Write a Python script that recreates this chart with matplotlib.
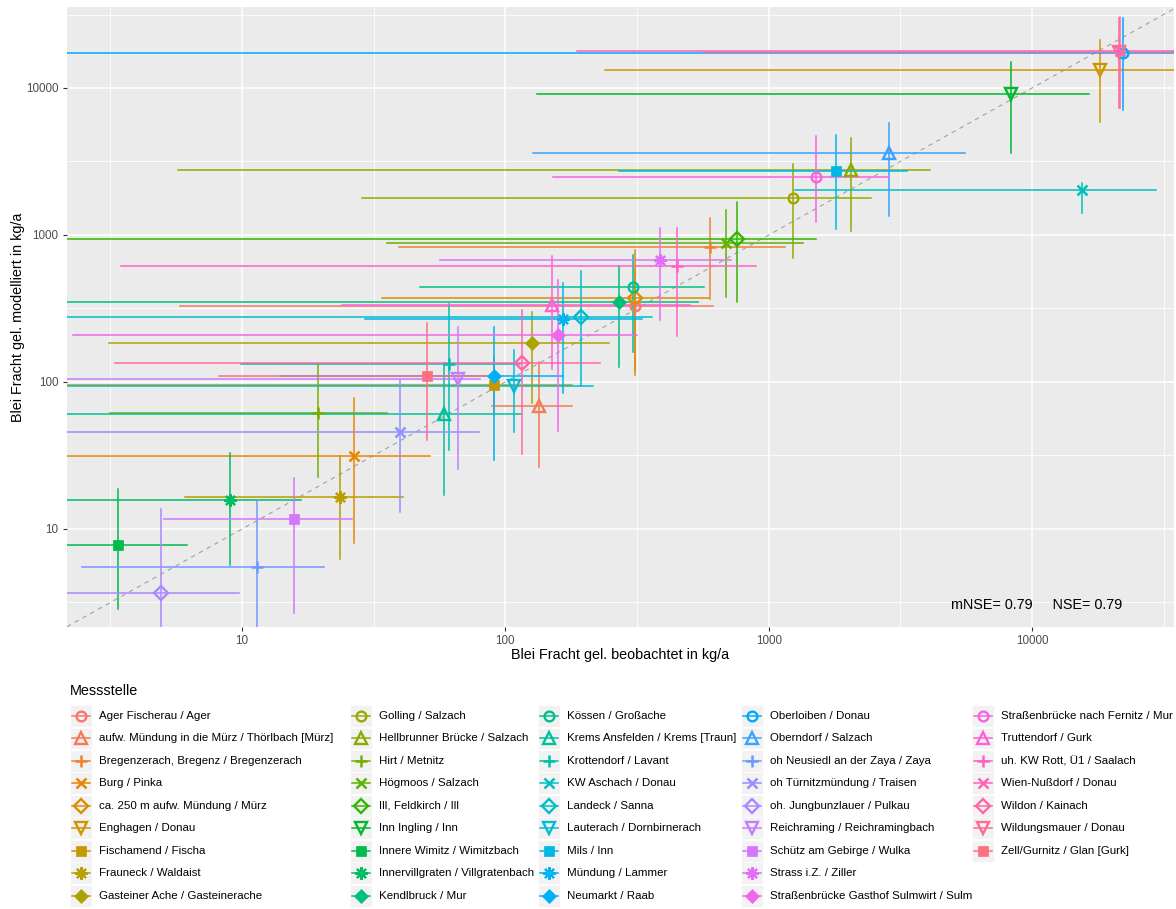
import numpy as np
import matplotlib
matplotlib.use("Agg")
import matplotlib.pyplot as plt
from matplotlib.patches import Rectangle

plt.rcParams['font.family'] = ['Liberation Sans', 'DejaVu Sans']

# --- data (kg/a) ---
stations = [
    "Ager Fischerau / Ager",
    "aufw. Mündung in die Mürz / Thörlbach [Mürz]",
    "Bregenzerach, Bregenz / Bregenzerach",
    "Burg / Pinka",
    "ca. 250 m aufw. Mündung / Mürz",
    "Enghagen / Donau",
    "Fischamend / Fischa",
    "Frauneck / Waldaist",
    "Gasteiner Ache / Gasteinerache",
    "Golling / Salzach",
    "Hellbrunner Brücke / Salzach",
    "Hirt / Metnitz",
    "Högmoos / Salzach",
    "Ill, Feldkirch / Ill",
    "Inn Ingling / Inn",
    "Innere Wimitz / Wimitzbach",
    "Innervillgraten / Villgratenbach",
    "Kendlbruck / Mur",
    "Kössen / Großache",
    "Krems Ansfelden / Krems [Traun]",
    "Krottendorf / Lavant",
    "KW Aschach / Donau",
    "Landeck / Sanna",
    "Lauterach / Dornbirnerach",
    "Mils / Inn",
    "Mündung / Lammer",
    "Neumarkt / Raab",
    "Oberloiben / Donau",
    "Oberndorf / Salzach",
    "oh Neusiedl an der Zaya / Zaya",
    "oh Türnitzmündung / Traisen",
    "oh. Jungbunzlauer / Pulkau",
    "Reichraming / Reichramingbach",
    "Schütz am Gebirge / Wulka",
    "Strass i.Z. / Ziller",
    "Straßenbrücke Gasthof Sulmwirt / Sulm",
    "Straßenbrücke nach Fernitz / Mur",
    "Truttendorf / Gurk",
    "uh. KW Rott, Ü1 / Saalach",
    "Wien-Nußdorf / Donau",
    "Wildon / Kainach",
    "Wildungsmauer / Donau",
    "Zell/Gurnitz / Glan [Gurk]",
]

obs = [311, 134, 596, 26.5, 311, 18070, 90.5, 23.6, 126, 1231, 2050, 19.4, 690, 757, 8340,
       3.37, 9.0, 270, 306, 58.6, 61.2, 15500, 194, 108, 1808, 165, 90.6, 22130, 2870, 11.4,
       39.8, 4.92, 65.9, 15.7, 387, 159, 1510, 150, 448, 21630, 116, 21400, 50.2]
obs_lo = [5.8, 89, 39.3, 1, 34, 238, 1, 6.08, 3.13, 28.6, 5.7, 3.16, 35.5, 1, 132,
          1, 1, 1, 47.4, 1, 9.9, 1259, 1, 1, 270, 29.3, 13.9, 1, 127, 2.47,
          1, 1, 1, 5.07, 56.5, 2.27, 152, 23.9, 3.47, 187, 3.3, 564, 8.2]
obs_hi = [614, 179, 1148, 51.8, 594, 1e5, 179, 40.7, 248, 2443, 4100, 35.6, 1349, 1511, 16500,
          6.17, 16.7, 541, 569, 115, 114, 29600, 359, 216, 3360, 330, 166, 1e5, 5570, 20.4,
          79.4, 9.75, 80, 26.2, 718, 315, 2852, 502, 891, 1e5, 229, 1e5, 89.8]

mod = [330, 69, 828, 31.4, 371, 13250, 95, 16.5, 183, 1787, 2768, 61.2, 887, 940, 9060,
       7.78, 15.7, 352, 443, 60.5, 132, 2024, 275, 94, 2725, 270, 109, 17390, 3597, 5.48,
       45.9, 3.69, 105, 11.7, 673, 210, 2496, 334, 618, 17860, 134, 17600, 110]
mod_lo = [121, 26.3, 367, 8.0, 112, 5900, 62, 6.25, 72.3, 702, 1070, 22.7, 380, 352, 3630,
          2.86, 5.69, 127, 161, 17.0, 34.4, 1420, 94, 45.9, 1094, 84.5, 29.4, 7080, 1346, 1,
          13.1, 1, 25.5, 2.67, 264, 46.4, 1231, 122, 206, 7280, 32.4, 7300, 40.3]
mod_hi = [578, 136, 1312, 77.4, 790, 21200, 150, 31.5, 301, 3026, 4550, 132, 1479, 1686, 15100,
          18.7, 32.7, 615, 731, 134, 340, 2260, 569, 165, 4786, 469, 236, 29800, 5750, 15.4,
          103, 13.7, 238, 22.1, 1122, 494, 4710, 720, 1122, 30550, 309, 30000, 251]

ann_text = "mNSE= 0.79     NSE= 0.79"


def hcl(h, c=100.0, l=65.0):
    h = np.deg2rad(h)
    U, V = c * np.cos(h), c * np.sin(h)
    Y = 100 * ((l + 16) / 116) ** 3
    u = U / (13 * l) + 0.1978398
    v = V / (13 * l) + 0.4683363
    X = 9 * Y * u / (4 * v)
    Z = -X / 3 - 5 * Y + 3 * Y / v
    M = np.array([[3.240479, -1.537150, -0.498535],
                  [-0.969256, 1.875992, 0.041556],
                  [0.055648, -0.204043, 1.057311]])
    rgb = M @ np.array([X, Y, Z]) / 100
    rgb = np.where(rgb > 0.0031308, 1.055 * np.abs(rgb) ** (1 / 2.4) - 0.055, 12.92 * rgb)
    return tuple(np.clip(rgb, 0, 1))


n = len(stations)
colors = [hcl(h) for h in np.linspace(15, 375, n + 1)[:-1]]

# ggplot shapes 1,2,3,4,5,6,15,8,18
shape_styles = [
    dict(marker='o', ms=7.0, open=True, mew=1.7),
    dict(marker='^', ms=8.0, open=True, mew=1.7),
    dict(marker='+', ms=9.0, open=False, mew=1.8),
    dict(marker='x', ms=7.0, open=False, mew=1.8),
    dict(marker='D', ms=7.0, open=True, mew=1.7),
    dict(marker='v', ms=8.0, open=True, mew=1.7),
    dict(marker='s', ms=7.0, open=False, mew=0.5),
    dict(marker=(8, 2, 0), ms=9.0, open=False, mew=1.6),
    dict(marker='D', ms=7.2, open=False, mew=0.5),
]


def marker_kw(i):
    s = shape_styles[i % 9]
    c = colors[i]
    return dict(marker=s['marker'], ms=s['ms'], mew=s['mew'], mec=c,
                mfc='none' if s['open'] else c, linestyle='none')


W, H = 1176, 909
fig = plt.figure(figsize=(W / 100, H / 100), dpi=100)
ax = fig.add_axes([66.7 / W, 1 - 626.7 / H, (1174 - 66.7) / W, (626.7 - 7.3) / H])
ax.set_facecolor('#EBEBEB')
ax.set_xscale('log')
ax.set_yscale('log')
ax.set_xlim(10 ** 0.334, 10 ** 4.539)
ax.set_ylim(10 ** 0.335, 10 ** 4.549)

majors = [10, 100, 1000, 10000]
minors = [10 ** (k + 0.5) for k in range(0, 5)]
ax.set_xticks(majors)
ax.set_xticklabels([str(m) for m in majors])
ax.set_yticks(majors)
ax.set_yticklabels([str(m) for m in majors])
ax.xaxis.set_minor_locator(matplotlib.ticker.NullLocator())
ax.yaxis.set_minor_locator(matplotlib.ticker.NullLocator())
for m in minors:
    ax.axvline(m, color='white', lw=0.6, zorder=0.5)
    ax.axhline(m, color='white', lw=0.6, zorder=0.5)
for m in majors:
    ax.axvline(m, color='white', lw=1.15, zorder=0.6)
    ax.axhline(m, color='white', lw=1.15, zorder=0.6)
for sp in ax.spines.values():
    sp.set_visible(False)
ax.tick_params(axis='both', which='major', length=3, width=0.8, color='#333333',
               labelsize=8.4, labelcolor='#4D4D4D', pad=3)

ax.axline((1, 1), (10000, 10000), color='#A0A0A0', lw=0.8, dashes=(4, 4), zorder=1)

for i in range(n):
    ax.plot([obs_lo[i], obs_hi[i]], [mod[i], mod[i]], color=colors[i], lw=1.1, zorder=2)
    ax.plot([obs[i], obs[i]], [mod_lo[i], mod_hi[i]], color=colors[i], lw=1.1, zorder=2)
for i in range(n):
    ax.plot(obs[i], mod[i], zorder=3, **marker_kw(i))

ax.text(10 ** 4.019, 10 ** 0.483, ann_text, ha='center', va='center', fontsize=10.4, color='black')

fig.text(620 / W, 1 - 655 / H, "Blei Fracht gel. beobachtet in kg/a", ha='center', va='center',
         fontsize=10.4)
fig.text(18 / W, 1 - 317 / H, "Blei Fracht gel. modelliert in kg/a", ha='center', va='center',
         rotation=90, fontsize=10.4)

# legend (drawn by hand to mimic the ggplot guide)
lg = fig.add_axes([0, 0, 1, 1])
lg.set_xlim(0, W)
lg.set_ylim(H, 0)
lg.axis('off')
lg.text(70, 691, "Messstelle", ha='left', va='center', fontsize=10.4)
col_text_x = [99, 379, 567, 770, 1001]
rows = 9
for i in range(n):
    c, r = divmod(i, rows)
    yc = 716 + 22.45 * r
    tx = col_text_x[c]
    bx = tx - 29
    lg.add_patch(Rectangle((bx, yc - 10.9), 21.8, 21.8, fc='#F2F2F2', ec='white', lw=0.6))
    lg.plot([bx + 1.5, bx + 20.3], [yc, yc], color=colors[i], lw=1.1)
    lg.plot(bx + 10.9, yc, **marker_kw(i))
    lg.text(tx, yc, stations[i], ha='left', va='center', fontsize=8.25, color='black')

fig.savefig("out.png", dpi=100)
